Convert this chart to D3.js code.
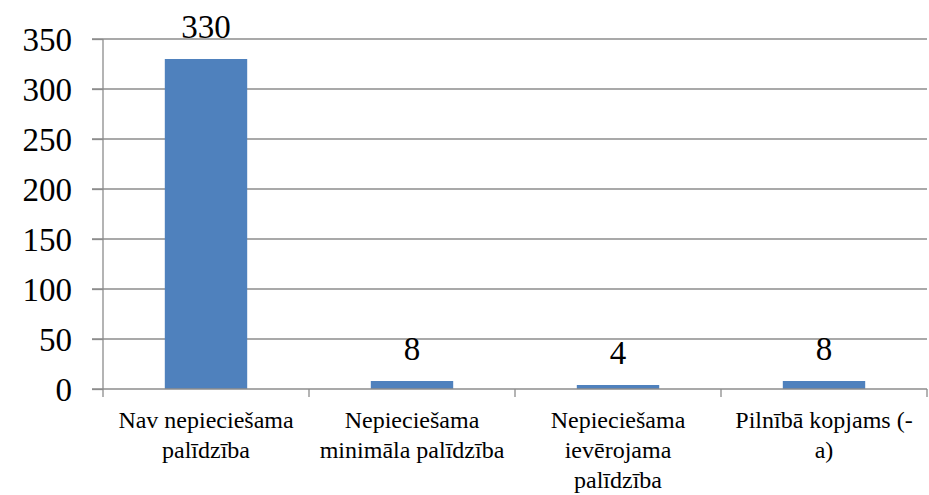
<!DOCTYPE html>
<html>
<head>
<meta charset="utf-8">
<script src="https://cdn.jsdelivr.net/npm/d3@7"></script>
<style>
  body { margin: 0; background: #fff; }
</style>
</head>
<body>
<svg id="chart" width="929" height="495"></svg>
<script>
// data
var categories = [
  ["Nav nepiecie\u0161ama", "pal\u012Bdz\u012Bba"],
  ["Nepiecie\u0161ama", "minim\u0101la pal\u012Bdz\u012Bba"],
  ["Nepiecie\u0161ama", "iev\u0113rojama", "pal\u012Bdz\u012Bba"],
  ["Piln\u012Bb\u0101 kopjams (-", "a)"]
];
var values = [330, 8, 4, 8];
var yTicks = [0, 50, 100, 150, 200, 250, 300, 350];

var serif = "'Liberation Serif', 'Times New Roman', Times, 'DejaVu Serif', serif";

var margin = {top: 39, right: 2, bottom: 106, left: 103},
    width = 929 - margin.left - margin.right,
    height = 495 - margin.top - margin.bottom;

var svg = d3.select('#chart')
  .append('g')
  .attr('transform', 'translate(' + margin.left + ',' + margin.top + ')');

var x = d3.scaleBand()
  .domain(d3.range(values.length))
  .range([0, width])
  .paddingInner(0.6)
  .paddingOuter(0.3);

var y = d3.scaleLinear().domain([0, 350]).range([height, 0]);

// gridlines
svg.append('g')
  .selectAll('line')
  .data(yTicks.filter(function(d) { return d > 0; }))
  .enter().append('line')
  .attr('x1', -11).attr('x2', width)
  .attr('y1', function(d) { return y(d); })
  .attr('y2', function(d) { return y(d); })
  .attr('stroke', '#8c8c8c')
  .attr('stroke-width', 1.3);

// y axis
var yAxis = svg.append('g')
  .call(d3.axisLeft(y).tickValues(yTicks).tickSize(11).tickPadding(20));
yAxis.attr('font-family', null).attr('font-size', null);
yAxis.select('.domain').attr('stroke', '#8c8c8c').attr('stroke-width', 1.3).attr('d', 'M0,0V' + height);
yAxis.selectAll('.tick line').attr('stroke', '#8c8c8c').attr('stroke-width', 1.3);
yAxis.selectAll('.tick text')
  .style('font-family', serif)
  .style('font-size', '33px')
  .attr('dy', '0.34em');

// bars
svg.selectAll('.bar')
  .data(values)
  .enter().append('rect')
  .attr('class', 'bar')
  .attr('x', function(d, i) { return x(i); })
  .attr('width', x.bandwidth())
  .attr('y', function(d) { return y(d); })
  .attr('height', function(d) { return height - y(d); })
  .attr('fill', '#4f81bd');

// x axis line + ticks at category boundaries
var step = width / values.length;
svg.append('line')
  .attr('x1', -11).attr('x2', width)
  .attr('y1', height).attr('y2', height)
  .attr('stroke', '#8c8c8c').attr('stroke-width', 1.3);
svg.selectAll('.xtick')
  .data(d3.range(values.length + 1))
  .enter().append('line')
  .attr('class', 'xtick')
  .attr('x1', function(d) { return d * step; })
  .attr('x2', function(d) { return d * step; })
  .attr('y1', height).attr('y2', height + 8)
  .attr('stroke', '#8c8c8c').attr('stroke-width', 1.3);

// data labels
svg.selectAll('.label')
  .data(values)
  .enter().append('text')
  .attr('class', 'label')
  .attr('x', function(d, i) { return x(i) + x.bandwidth() / 2; })
  .attr('y', function(d) { return y(d) - 21; })
  .attr('text-anchor', 'middle')
  .style('font-family', serif)
  .style('font-size', '33px')
  .text(function(d) { return d; });

// category labels
var cat = svg.selectAll('.cat')
  .data(categories)
  .enter().append('text')
  .attr('class', 'cat')
  .attr('text-anchor', 'middle')
  .style('font-family', serif)
  .style('font-size', '24px')
  .attr('transform', function(d, i) {
    return 'translate(' + (x(i) + x.bandwidth() / 2) + ',' + (height + 39) + ')';
  });
cat.selectAll('tspan')
  .data(function(d) { return d; })
  .enter().append('tspan')
  .attr('x', 0)
  .attr('dy', function(d, i) { return i === 0 ? 0 : 30; })
  .text(function(d) { return d; });
</script>
</body>
</html>
